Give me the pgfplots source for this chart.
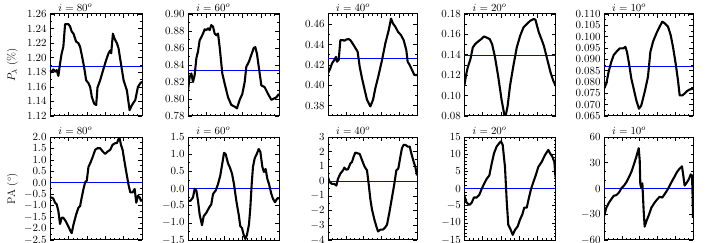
\documentclass[border=0pt]{standalone}
\usepackage{pgfplots}
\pgfplotsset{compat=1.18}
\pgfplotsset{
  panel/.style={
    scale only axis, anchor=north west,
    xmin=0, xmax=1,
    xtick={0,0.2,0.4,0.6,0.8,1}, xticklabels={}, minor x tick num=3,
    tick align=inside, major tick length=4bp, minor tick length=2.2bp,
    axis line style={line width=1pt},
    every tick/.style={black, line width=0.6pt},
    ticklabel style={font=\fontsize{11}{12}\selectfont},
    scaled y ticks=false,
    minor y tick num=1,
    clip mode=individual,
  },
  prec/.style={yticklabel style={/pgf/number format/fixed, /pgf/number format/fixed zerofill, /pgf/number format/precision=#1}},
  curve/.style={black, line width=2.1pt, line join=round},
  mean/.style={blue, line width=0.8pt},
}
\newcommand{\ttl}[1]{\node[anchor=base west, inner sep=0pt, font=\fontsize{11}{12}\selectfont] at (rel axis cs:0.09,1) [yshift=2.5bp] {$i = #1^o$};}
\begin{document}
\begin{tikzpicture}
\useasboundingbox (0,0) rectangle (710bp,243bp);
% ---------------- top row ----------------
\begin{axis}[panel, prec=2, at={(50bp,229bp)}, width=92bp, height=102bp,
  ymin=1.12, ymax=1.26, ytick={1.12,1.14,...,1.261}]
\addplot[mean] coordinates {(0,1.1875) (1,1.1875)};
\addplot[curve] coordinates {
(0,1.183)(0.018,1.180)(0.036,1.184)(0.055,1.181)(0.073,1.183)(0.091,1.175)(0.109,1.192)(0.127,1.206)(0.145,1.215)(0.164,1.246)(0.200,1.246)(0.218,1.243)(0.236,1.236)(0.255,1.233)(0.284,1.222)(0.309,1.220)(0.327,1.215)(0.345,1.204)(0.371,1.187)(0.393,1.169)(0.418,1.165)(0.436,1.160)(0.455,1.146)(0.480,1.137)(0.502,1.135)(0.516,1.159)(0.545,1.169)(0.582,1.185)(0.611,1.197)(0.636,1.206)(0.655,1.210)(0.665,1.206)(0.684,1.233)(0.702,1.226)(0.727,1.220)(0.745,1.213)(0.771,1.192)(0.800,1.169)(0.836,1.155)(0.865,1.128)(0.891,1.135)(0.927,1.142)(0.956,1.160)(0.982,1.165)(1,1.167)};
\ttl{80}
\node[xshift=-37.5bp, rotate=90, font=\fontsize{11}{12}\selectfont] at (rel axis cs:0,0.5) {$P_\lambda$ (\%)};
\end{axis}
\begin{axis}[panel, prec=2, at={(188bp,229bp)}, width=91bp, height=102bp,
  ymin=0.78, ymax=0.90, ytick={0.78,0.80,...,0.901}]
\addplot[mean] coordinates {(0,0.834) (1,0.834)};
\addplot[curve] coordinates {
(0,0.810)(0.018,0.826)(0.037,0.830)(0.055,0.820)(0.073,0.828)(0.092,0.848)(0.110,0.856)(0.128,0.869)(0.147,0.873)(0.165,0.877)(0.183,0.882)(0.201,0.881)(0.220,0.883)(0.238,0.881)(0.256,0.887)(0.275,0.885)(0.293,0.877)(0.311,0.875)(0.330,0.877)(0.348,0.861)(0.377,0.830)(0.403,0.818)(0.440,0.802)(0.476,0.793)(0.513,0.791)(0.538,0.789)(0.568,0.799)(0.597,0.806)(0.623,0.820)(0.641,0.838)(0.670,0.844)(0.696,0.852)(0.722,0.860)(0.740,0.861)(0.758,0.853)(0.780,0.836)(0.806,0.816)(0.842,0.814)(0.879,0.806)(0.916,0.799)(0.934,0.800)(0.971,0.802)(1,0.806)};
\ttl{60}
\end{axis}
\begin{axis}[panel, prec=2, at={(328bp,229bp)}, width=89bp, height=102bp,
  ymin=0.37, ymax=0.47, ytick={0.38,0.40,...,0.461}]
\addplot[mean] coordinates {(0,0.4265) (1,0.4265)};
\addplot[curve] coordinates {
(0,0.4119)(0.026,0.4167)(0.045,0.4216)(0.071,0.4249)(0.090,0.428)(0.101,0.4232)(0.120,0.4249)(0.139,0.4444)(0.169,0.4444)(0.184,0.4437)(0.206,0.445)(0.232,0.4454)(0.251,0.4444)(0.288,0.4395)(0.333,0.433)(0.356,0.4184)(0.382,0.407)(0.412,0.3956)(0.438,0.3859)(0.476,0.3794)(0.506,0.3859)(0.532,0.3972)(0.569,0.4102)(0.607,0.4249)(0.644,0.4411)(0.682,0.4541)(0.708,0.4655)(0.730,0.4607)(0.757,0.4574)(0.787,0.4525)(0.820,0.4493)(0.850,0.4444)(0.880,0.4346)(0.895,0.4232)(0.918,0.42)(0.944,0.4151)(0.970,0.4102)(1,0.4102)};
\ttl{40}
\end{axis}
\begin{axis}[panel, prec=2, at={(464.3bp,229bp)}, width=91.4bp, height=102bp,
  ymin=0.08, ymax=0.18, ytick={0.08,0.10,...,0.181}]
\addplot[mean] coordinates {(0,0.139) (1,0.139)};
\addplot[curve] coordinates {
(0,0.1095)(0.019,0.12)(0.037,0.1275)(0.067,0.1357)(0.093,0.1472)(0.119,0.1505)(0.148,0.1528)(0.185,0.1554)(0.215,0.158)(0.241,0.157)(0.278,0.1554)(0.304,0.1505)(0.333,0.139)(0.370,0.1193)(0.407,0.0964)(0.437,0.0816)(0.452,0.08)(0.474,0.0898)(0.500,0.1095)(0.537,0.1292)(0.574,0.1472)(0.611,0.1587)(0.648,0.1669)(0.685,0.1702)(0.722,0.1734)(0.759,0.1751)(0.778,0.1744)(0.815,0.162)(0.844,0.1554)(0.870,0.1489)(0.907,0.1357)(0.944,0.1226)(0.974,0.1144)(1,0.1095)};
\ttl{20}
\end{axis}
\begin{axis}[panel, prec=3, at={(604bp,229bp)}, width=89bp, height=102bp,
  ymin=0.065, ymax=0.110, ytick={0.065,0.070,...,0.1101}]
\addplot[mean] coordinates {(0,0.0871) (1,0.0871)};
\addplot[curve] coordinates {
(0,0.0771)(0.026,0.0793)(0.052,0.0845)(0.082,0.0889)(0.109,0.0919)(0.139,0.0933)(0.176,0.0948)(0.213,0.0948)(0.240,0.0955)(0.258,0.0933)(0.281,0.0882)(0.307,0.0815)(0.333,0.0771)(0.363,0.0719)(0.393,0.0682)(0.419,0.0697)(0.457,0.0756)(0.494,0.0823)(0.521,0.0933)(0.551,0.0978)(0.588,0.1014)(0.625,0.1044)(0.655,0.1066)(0.682,0.1059)(0.719,0.1044)(0.749,0.1007)(0.775,0.0955)(0.805,0.0882)(0.831,0.0808)(0.850,0.0741)(0.880,0.0741)(0.906,0.0749)(0.933,0.076)(0.963,0.0767)(1,0.0771)};
\ttl{10}
\end{axis}
% ---------------- bottom row ----------------
\begin{axis}[panel, prec=1, at={(50bp,106bp)}, width=92bp, height=103bp,
  ymin=-2.5, ymax=2.0, ytick={-2.5,-2.0,...,2.01}]
\addplot[mean] coordinates {(0,0) (1,0)};
\addplot[curve] coordinates {
(0,-0.645)(0.018,-0.645)(0.036,-0.69)(0.055,-0.87)(0.073,-0.94)(0.091,-1.24)(0.109,-1.80)(0.127,-1.53)(0.145,-1.53)(0.171,-1.68)(0.200,-1.91)(0.225,-2.13)(0.236,-2.2)(0.255,-1.83)(0.284,-1.39)(0.309,-1.09)(0.327,-1.02)(0.345,-0.64)(0.364,-0.27)(0.382,0.02)(0.400,0.10)(0.418,0.69)(0.444,0.92)(0.465,1.14)(0.491,1.44)(0.516,1.51)(0.545,1.51)(0.575,1.36)(0.600,1.26)(0.625,1.36)(0.655,1.44)(0.680,1.66)(0.709,1.73)(0.727,1.73)(0.745,1.91)(0.756,1.96)(0.771,1.66)(0.789,1.44)(0.807,0.99)(0.829,0.47)(0.855,-0.12)(0.873,-0.42)(0.898,-0.42)(0.920,-0.27)(0.938,-0.87)(0.956,-0.57)(0.975,-0.64)(0.989,-0.79)(1,-0.72)};
\ttl{80}
\node[xshift=-37.5bp, rotate=90, font=\fontsize{11}{12}\selectfont] at (rel axis cs:0,0.5) {PA ($^\circ$)};
\end{axis}
\begin{axis}[panel, prec=1, at={(188bp,106bp)}, width=91bp, height=103bp,
  ymin=-1.5, ymax=1.5, ytick={-1.5,-1.0,...,1.51}]
\addplot[mean] coordinates {(0,0) (1,0)};
\addplot[curve] coordinates {
(0,-0.36)(0.026,-0.36)(0.055,-0.26)(0.073,-0.01)(0.092,-0.06)(0.110,-0.36)(0.128,-0.76)(0.154,-1.07)(0.172,-0.81)(0.201,-0.71)(0.231,-0.56)(0.256,-0.46)(0.275,-0.16)(0.304,-0.06)(0.330,0.13)(0.355,0.38)(0.377,0.73)(0.396,1.04)(0.414,1.0)(0.440,0.73)(0.458,0.63)(0.484,0.43)(0.505,0.13)(0.531,-0.36)(0.557,-0.76)(0.575,-1.10)(0.593,-1.15)(0.612,-1.35)(0.630,-1.47)(0.648,-1.35)(0.670,-1.05)(0.685,-0.56)(0.700,0.13)(0.714,0.63)(0.733,0.88)(0.758,1.02)(0.777,1.15)(0.795,1.07)(0.817,0.63)(0.835,0.48)(0.853,0.57)(0.872,0.28)(0.890,0.13)(0.916,-0.16)(0.934,-0.30)(0.956,-0.40)(0.978,-0.30)(1,-0.28)};
\ttl{60}
\end{axis}
\begin{axis}[panel, at={(328bp,106bp)}, width=89bp, height=103bp,
  ymin=-4, ymax=3, ytick={-4,-3,...,3}]
\addplot[mean] coordinates {(0,0) (1,0)};
\addplot[curve] coordinates {
(0,0.27)(0.019,-0.07)(0.045,-0.19)(0.071,-0.19)(0.094,-0.30)(0.112,0.16)(0.139,0.51)(0.169,0.74)(0.184,0.92)(0.206,0.78)(0.225,0.81)(0.251,1.20)(0.270,1.31)(0.288,1.66)(0.307,1.94)(0.333,1.89)(0.356,1.85)(0.382,1.43)(0.412,0.97)(0.438,0.74)(0.457,-0.19)(0.476,-1.23)(0.494,-1.92)(0.521,-2.61)(0.543,-3.07)(0.562,-3.42)(0.588,-3.30)(0.614,-3.30)(0.637,-3.19)(0.663,-2.96)(0.689,-2.15)(0.719,-1.11)(0.745,-0.19)(0.768,0.74)(0.790,0.85)(0.813,1.66)(0.831,2.24)(0.850,2.47)(0.869,2.47)(0.895,2.35)(0.918,2.35)(0.936,1.89)(0.963,1.31)(0.981,0.97)(1,0.39)};
\ttl{40}
\end{axis}
\begin{axis}[panel, at={(464.3bp,106bp)}, width=91.4bp, height=103bp,
  ymin=-15, ymax=15, ytick={-15,-10,...,15}, minor y tick num=4]
\addplot[mean] coordinates {(0,0) (1,0)};
\addplot[curve] coordinates {
(0,-2.13)(0.026,-4.11)(0.055,-4.8)(0.081,-4.11)(0.106,-2.62)(0.136,-2.62)(0.164,-1.83)(0.190,-0.15)(0.216,1.34)(0.245,2.82)(0.274,3.81)(0.300,7.28)(0.325,10.25)(0.354,12.23)(0.383,13.22)(0.402,13.71)(0.420,12.72)(0.445,6.29)(0.464,-3.61)(0.481,-10.54)(0.508,-12.03)(0.530,-13.51)(0.555,-12.03)(0.584,-11.04)(0.609,-9.06)(0.635,-7.57)(0.656,-5.59)(0.683,-5.59)(0.708,-2.62)(0.730,-0.15)(0.755,1.83)(0.781,3.81)(0.810,6.29)(0.847,7.77)(0.883,9.75)(0.919,11.24)(0.938,10.25)(0.963,9.26)(0.985,7.77)(1,2.82)};
\ttl{20}
\end{axis}
\begin{axis}[panel, at={(604bp,106bp)}, width=89bp, height=103bp,
  ymin=-60, ymax=60, ytick={-60,-30,...,60}, minor y tick num=2]
\addplot[mean] coordinates {(0,0) (1,0)};
\addplot[curve] coordinates {
(0,-32.3)(0.026,-22.4)(0.056,-16.4)(0.082,-12.5)(0.109,-8.5)(0.139,-7.7)(0.169,-4.6)(0.195,0.2)(0.225,3.4)(0.251,7.3)(0.281,13.3)(0.307,19.2)(0.333,27.1)(0.363,37.0)(0.390,46.9)(0.401,33.0)(0.408,5.3)(0.419,0.5)(0.431,6.1)(0.446,-26.5)(0.457,-44.4)(0.476,-38.2)(0.506,-30.3)(0.532,-22.4)(0.569,-16.4)(0.599,-12.5)(0.625,-9.7)(0.655,-10.5)(0.682,-6.5)(0.712,-1.8)(0.738,3.4)(0.768,9.3)(0.794,14.1)(0.820,19.2)(0.850,23.2)(0.876,25.9)(0.888,17.2)(0.906,3.4)(0.933,7.3)(0.955,11.2)(0.974,16.4)(0.989,15.2)(0.996,-10.5)(1,-34.3)};
\ttl{10}
\end{axis}
\end{tikzpicture}
\end{document}
